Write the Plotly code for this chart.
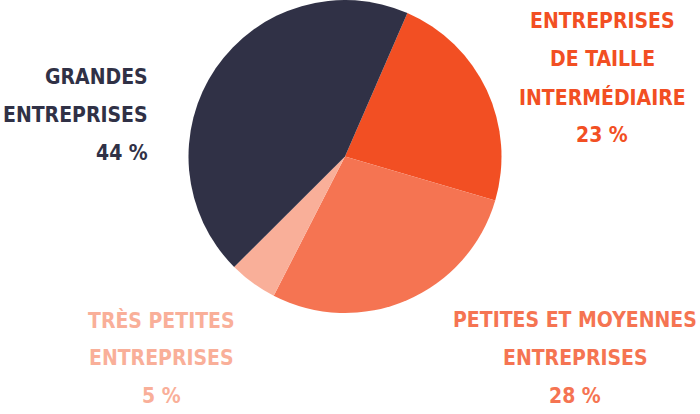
import plotly.graph_objects as go

categories = ["ENTREPRISES DE TAILLE INTERMÉDIAIRE", "PETITES ET MOYENNES ENTREPRISES",
              "TRÈS PETITES ENTREPRISES", "GRANDES ENTREPRISES"]
label_lines = [["ENTREPRISES", "DE TAILLE", "INTERMÉDIAIRE"],
               ["PETITES ET MOYENNES", "ENTREPRISES"],
               ["TRÈS PETITES", "ENTREPRISES"],
               ["GRANDES", "ENTREPRISES"]]
values = [23, 28, 5, 44]
colors = ["#f24f23", "#f57452", "#f9af99", "#303146"]

FONT = "DejaVu Sans Condensed, Liberation Sans Narrow, sans-serif"

fig = go.Figure(go.Pie(
    labels=categories, values=values, sort=False, direction="clockwise",
    rotation=23.5, marker=dict(colors=colors, line=dict(width=0)),
    textinfo="none", hoverinfo="skip", showlegend=False,
    domain=dict(x=[188/700, 502/700], y=[101/414, 1]),
))

# label placement: (x anchor px, first line y px, xanchor)
placements = [(602, 21, "center"), (575, 320, "center"), (161, 320, "center"), (150, 77, "right")]
line_gap = 38
anns = []
for lines, v, c, (x, y0, xa) in zip(label_lines, values, colors, placements):
    texts = lines + [f"{v} %"]
    for i, t in enumerate(texts):
        anns.append(dict(text=f"<b>{t}</b>", x=x/700, y=1 - (y0 + i*line_gap)/414,
                         xref="paper", yref="paper", xanchor=xa, yanchor="middle",
                         showarrow=False, font=dict(family=FONT, size=21, color=c)))

fig.update_layout(width=700, height=414, margin=dict(l=0, r=0, t=0, b=0),
                  paper_bgcolor="white", plot_bgcolor="white", annotations=anns)
fig.write_html("out.html", config={"displayModeBar": False},
               post_script="document.body.style.margin='0';")
